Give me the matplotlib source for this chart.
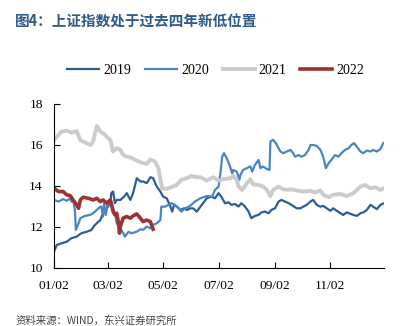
import matplotlib
matplotlib.use("Agg")
import matplotlib.pyplot as plt

plt.rcParams['font.family'] = ['Liberation Serif', 'DejaVu Serif']

# (days since 01/02, index level in thousand points)
s2019 = [(0, 10.80), (3, 11.12), (8, 11.20), (14, 11.28), (19, 11.45), (25, 11.53), (30, 11.69), (36, 11.77),
         (41, 11.85), (45, 12.10), (51, 12.34), (54, 12.67), (58, 12.91), (62, 13.16), (63, 13.65), (65, 13.73),
         (67, 13.16), (69, 13.32), (73, 13.32), (77, 13.48), (80, 13.65), (84, 13.32), (87, 13.65), (91, 14.38),
         (95, 14.22), (98, 14.22), (102, 14.14), (106, 14.43), (109, 14.38), (113, 13.97), (117, 13.73),
         (120, 13.48), (124, 13.40), (128, 13.00), (130, 12.75), (132, 13.08), (135, 13.00), (139, 12.83),
         (143, 12.91), (146, 12.83), (150, 12.91), (153, 12.91), (157, 12.75), (161, 12.99), (164, 13.16),
         (168, 13.40), (173, 13.48), (177, 13.40), (181, 13.65), (184, 13.48), (188, 13.16), (192, 13.20),
         (195, 13.08), (199, 13.12), (203, 13.00), (206, 13.16), (210, 13.00), (214, 12.75), (217, 12.43),
         (221, 12.54), (225, 12.59), (228, 12.71), (232, 12.75), (236, 12.67), (239, 12.83), (243, 12.91),
         (247, 13.24), (250, 13.32), (254, 13.24), (258, 13.16), (261, 13.08), (267, 12.91), (271, 12.91),
         (274, 12.99), (278, 13.08), (282, 13.24), (285, 13.32), (289, 13.08), (293, 12.99), (296, 13.03),
         (300, 12.91), (304, 12.79), (307, 12.91), (311, 12.79), (315, 12.67), (318, 12.59), (322, 12.71),
         (326, 12.64), (329, 12.59), (333, 12.54), (337, 12.67), (340, 12.71), (344, 12.83), (348, 13.08),
         (351, 12.99), (355, 12.87), (359, 13.08), (363, 13.16)]

s2020 = [(0, 13.32), (5, 13.24), (10, 13.36), (14, 13.28), (18, 13.40), (19, 13.24), (21, 13.32), (23, 12.83),
         (24, 11.86), (27, 12.18), (29, 12.43), (34, 12.54), (40, 12.59), (43, 12.67), (47, 12.83), (51, 12.99),
         (52, 12.99), (54, 12.51), (55, 13.15), (57, 12.59), (59, 13.15), (62, 13.08), (65, 12.91), (67, 12.67),
         (69, 12.18), (73, 11.94), (76, 11.70), (78, 11.53), (82, 11.77), (85, 11.69), (91, 11.77), (95, 11.89),
         (98, 11.86), (102, 12.02), (106, 11.94), (109, 12.10), (113, 12.18), (117, 12.34), (118, 12.99),
         (122, 12.99), (126, 13.08), (129, 13.16), (133, 13.08), (137, 12.91), (140, 12.75), (144, 12.91),
         (148, 12.99), (151, 13.08), (155, 13.24), (161, 13.40), (168, 13.51), (174, 13.48), (177, 13.81),
         (181, 13.97), (183, 14.62), (185, 15.43), (187, 15.60), (190, 15.35), (193, 15.03), (196, 14.62),
         (197, 14.78), (201, 14.70), (204, 14.30), (205, 14.54), (208, 14.78), (212, 14.87), (216, 14.95),
         (218, 14.70), (221, 15.03), (225, 15.27), (227, 14.87), (230, 14.95), (234, 14.83), (237, 14.78),
         (238, 16.17), (241, 16.25), (244, 16.09), (247, 15.84), (249, 15.68), (252, 15.60), (256, 15.68),
         (260, 15.76), (263, 15.60), (265, 15.43), (269, 15.51), (272, 15.43), (276, 15.51), (280, 15.76),
         (282, 16.00), (285, 16.00), (289, 15.95), (293, 15.76), (296, 15.43), (299, 14.87), (302, 15.11),
         (305, 15.27), (309, 15.51), (313, 15.43), (316, 15.60), (320, 15.76), (324, 15.84), (327, 16.00),
         (330, 16.09), (333, 15.92), (337, 15.68), (340, 15.60), (344, 15.73), (348, 15.68), (351, 15.76),
         (355, 15.68), (359, 15.80), (362, 16.09)]

s2021 = [(0, 16.24), (8, 16.65), (14, 16.70), (19, 16.60), (25, 16.67), (29, 16.24), (34, 16.12), (40, 16.00),
         (43, 16.17), (47, 16.93), (51, 16.65), (54, 16.57), (58, 16.41), (62, 16.24), (65, 15.68), (69, 15.84),
         (73, 15.76), (76, 15.51), (80, 15.43), (85, 15.38), (91, 15.24), (96, 15.14), (102, 15.08),
         (106, 15.30), (111, 15.19), (115, 14.86), (117, 14.30), (119, 13.89), (124, 13.86), (129, 13.94),
         (135, 14.05), (140, 14.30), (146, 14.38), (151, 14.49), (157, 14.43), (161, 14.43), (168, 14.26),
         (175, 14.43), (181, 14.26), (186, 14.33), (194, 14.38), (197, 14.49), (201, 14.30), (203, 13.97),
         (207, 13.81), (212, 14.13), (216, 14.33), (219, 14.08), (225, 14.05), (230, 13.97), (234, 13.81),
         (238, 13.51), (241, 13.81), (247, 13.97), (252, 13.84), (256, 13.81), (261, 13.84), (267, 13.78),
         (274, 13.73), (282, 13.76), (287, 13.68), (293, 13.78), (296, 13.57), (302, 13.45), (307, 13.57),
         (315, 13.61), (322, 13.51), (329, 13.64), (337, 13.97), (342, 14.05), (348, 13.89), (353, 13.94),
         (359, 13.81), (363, 13.89)]

s2022 = [(0, 13.89), (5, 13.73), (10, 13.73), (14, 13.57), (18, 13.52), (21, 13.32), (25, 13.08), (27, 12.91),
         (29, 13.32), (32, 13.45), (38, 13.40), (43, 13.32), (47, 13.40), (51, 13.24), (54, 13.32), (58, 13.16),
         (62, 13.32), (63, 13.16), (65, 12.75), (67, 12.59), (69, 12.67), (71, 12.18), (72, 11.70), (73, 12.02),
         (76, 12.43), (80, 12.51), (84, 12.43), (87, 12.54), (91, 12.64), (95, 12.43), (98, 12.26), (102, 12.34),
         (106, 12.26), (109, 11.89)]

series = [('2019', s2019), ('2020', s2020), ('2021', s2021), ('2022', s2022)]
colors = {'2019': '#2E5D96', '2020': '#4A84C4', '2021': '#CBCBCB', '2022': '#9C3233'}
widths = {'2019': 1.6, '2020': 1.6, '2021': 2.8, '2022': 2.6}

tick_days = [0, 59, 120, 181, 243, 304]
tick_labels = ['01/02', '03/02', '05/02', '07/02', '09/02', '11/02']

fig = plt.figure(figsize=(4.06, 3.26), dpi=100)
ax = fig.add_axes([0.133, 0.178, 0.813, 0.503])

for name, pts in series:
    x, y = zip(*pts)
    ax.plot(x, y, color=colors[name], lw=widths[name], label=name)

ax.set_xlim(0, 363)
ax.set_ylim(10, 18)
ax.set_yticks([10, 12, 14, 16, 18])
ax.set_xticks(tick_days)
ax.set_xticklabels(tick_labels)
for s in ['top', 'right']:
    ax.spines[s].set_visible(False)
ax.tick_params(direction='in', labelsize=9.7, length=4, width=0.8)
ax.tick_params(axis='x', pad=9)
ax.tick_params(axis='y', pad=8)

ax.legend(loc='center', bbox_to_anchor=(0.49, 1.205), ncol=4, frameon=False, fontsize=10,
          handlelength=2.3, handletextpad=0.3, columnspacing=1.0)

fig.text(0.037, 0.935, '图4：上证指数处于过去四年新低位置', fontsize=10.5, fontweight='bold',
         color='#2F5A8A', family=['Noto Sans CJK SC', 'DejaVu Sans'], va='center')
fig.text(0.037, 0.016, '资料来源：WIND，东兴证券研究所', fontsize=7.5, color='#444444',
         family=['Noto Sans CJK SC', 'DejaVu Sans'], va='center')

fig.savefig('out.png', dpi=100)
